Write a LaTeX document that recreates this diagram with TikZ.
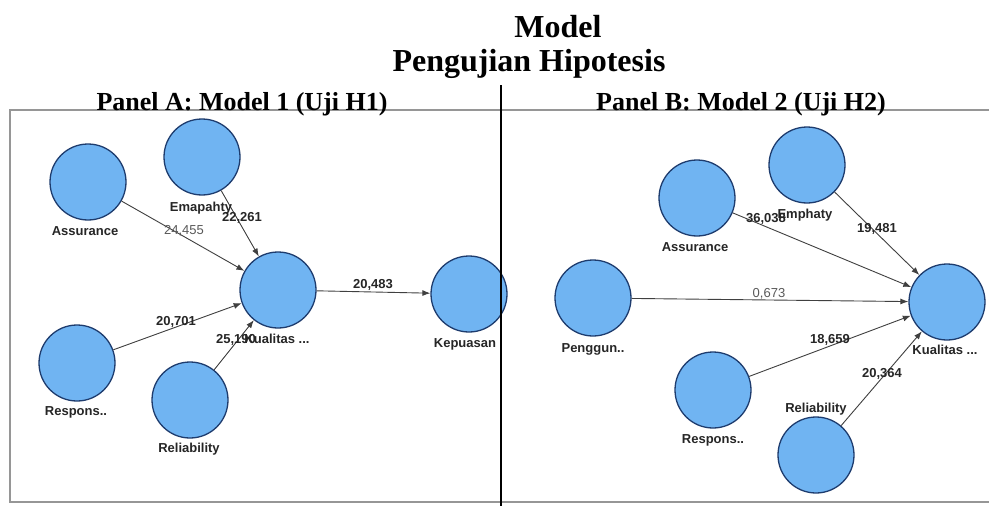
\documentclass[tikz,border=0pt]{standalone}
\usepackage{fontspec}
\setmainfont{Liberation Serif}
\newfontfamily\labfont{Liberation Sans}
\usetikzlibrary{arrows.meta}
\definecolor{lvfill}{RGB}{112,180,242}
\definecolor{lvdraw}{RGB}{30,60,110}
\definecolor{framegray}{RGB}{150,150,150}
\begin{document}
\begin{tikzpicture}[x=1pt,y=-1pt,
  lv/.style={circle, minimum size=76pt, inner sep=0pt, fill=lvfill, draw=lvdraw, line width=1.3pt},
  nlab/.style={font=\labfont\bfseries\fontsize{13}{15}\selectfont, text=black!85, inner sep=0pt, anchor=base},
  elab/.style={font=\labfont\bfseries\fontsize{13}{15}\selectfont, text=black!85, inner sep=0pt, anchor=base},
  elabl/.style={font=\labfont\fontsize{13}{15}\selectfont, text=black!65, inner sep=0pt, anchor=base},
  conn/.style={draw=black!75, line width=0.9pt, -{Latex[length=8pt,width=6pt]}},
  ttl/.style={font=\bfseries\fontsize{32}{34}\selectfont, inner sep=0pt, anchor=base},
  ptl/.style={font=\bfseries\fontsize{26}{28}\selectfont, inner sep=0pt, anchor=base}
]
\useasboundingbox (0,0) rectangle (989,506);
\fill[white] (0,0) rectangle (989,506);

% frame
\coordinate (ftr) at (989,110);
\coordinate (ftl) at (10,110);
\coordinate (fbl) at (10,502);
\coordinate (fbr) at (989,502);
\draw[framegray, line width=2.5pt] (ftr) -- (ftl) -- (fbl) -- (fbr);

% titles
\node[ttl] (t1) at (558,37) {Model};
\node[ttl] (t2) at (529,71) {Pengujian Hipotesis};
\node[ptl] (pa) at (242,110) {Panel A: Model 1 (Uji H1)};
\node[ptl] (pb) at (741,110) {Panel B: Model 2 (Uji H2)};

% Panel A nodes
\node[lv] (aA) at (88,182) {};
\node[lv] (aE) at (202,157) {};
\node[lv] (aK) at (278,290) {};
\node[lv] (aP) at (469,294) {};
\node[lv] (aR) at (77,363) {};
\node[lv] (aL) at (190,400) {};

\draw[conn] (aA) -- (aK);
\draw[conn] (aE) -- (aK);
\draw[conn] (aR) -- (aK);
\draw[conn] (aL) -- (aK);
\draw[conn] (aK) -- (aP);

\node[nlab] (laA) at (85,235) {Assurance};
\node[nlab] (laE) at (201,211) {Emapahty};
\node[nlab] (laR) at (76,415) {Respons..};
\node[nlab] (laL) at (189,452) {Reliability};
\node[nlab] (laP) at (465,347) {Kepuasan};
\node[elabl] (eaA) at (184,234) {24,455};
\node[elab] (eaE) at (242,221) {22,261};
\node[elab] (eaR) at (176,325) {20,701};
\node[elab] (eaL) at (236,343) {25,190};
\node[nlab] (laK) at (277,343) {Kualitas ...};
\node[elab] (eaP) at (373,288) {20,483};

% Panel B nodes
\node[lv] (bA) at (697,198) {};
\node[lv] (bE) at (807,165) {};
\node[lv] (bG) at (593,298) {};
\node[lv] (bK) at (947,302) {};
\node[lv] (bR) at (713,390) {};
\node[lv] (bL) at (816,455) {};

\draw[conn] (bA) -- (bK);
\draw[conn] (bE) -- (bK);
\draw[conn] (bG) -- (bK);
\draw[conn] (bR) -- (bK);
\draw[conn] (bL) -- (bK);

\node[nlab] (lbA) at (695,251) {Assurance};
\node[elab] (ebA) at (766,222) {36,038};
\node[nlab] (lbE) at (805,218) {Emphaty};
\node[nlab] (lbG) at (593,352) {Penggun..};
\node[nlab] (lbK) at (945,354) {Kualitas ...};
\node[nlab] (lbR) at (713,443) {Respons..};
\node[nlab] (lbL) at (816,412) {Reliability};
\node[elab] (ebE) at (877,232) {19,481};
\node[elabl] (ebG) at (769,297) {0,673};
\node[elab] (ebR) at (830,343) {18,659};
\node[elab] (ebL) at (882,377) {20,364};

% divider
\coordinate (vt) at (500.5,85);
\coordinate (vb) at (500.5,506);
\draw[black, line width=2pt] (vt) -- (vb);
\end{tikzpicture}
\end{document}
